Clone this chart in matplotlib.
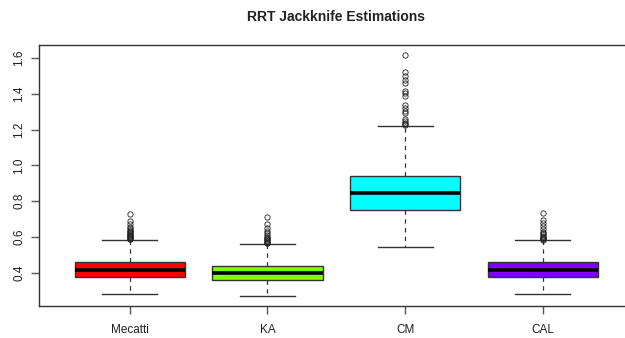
import matplotlib
matplotlib.use("Agg")
import matplotlib.pyplot as plt

plt.rcParams["font.family"] = ["Liberation Sans", "DejaVu Sans"]

# Box summaries
labels = ["Mecatti", "KA", "CM", "CAL"]
colors = ["#FF0000", "#80FF00", "#00FFFF", "#8000FF"]
q1 = [0.374, 0.359, 0.749, 0.374]
medians = [0.415, 0.398, 0.847, 0.415]
q3 = [0.460, 0.439, 0.940, 0.460]
whis_lo = [0.281, 0.268, 0.544, 0.281]
whis_hi = [0.581, 0.560, 1.220, 0.581]

fliers_mecatti = [0.728, 0.689, 0.672, 0.657, 0.648, 0.640, 0.634, 0.628, 0.622,
                  0.617, 0.612, 0.607, 0.603, 0.599, 0.595, 0.591, 0.587]
fliers_ka = [0.710, 0.670, 0.652, 0.635, 0.620, 0.610, 0.601, 0.594, 0.588,
             0.582, 0.577, 0.572, 0.567, 0.564]
fliers_cm = [1.619, 1.520, 1.500, 1.477, 1.459, 1.417, 1.403, 1.388, 1.337,
             1.319, 1.304, 1.291, 1.259, 1.248, 1.238, 1.230, 1.225]
fliers_cal = [0.735, 0.696, 0.678, 0.661, 0.645, 0.630, 0.622, 0.614, 0.607,
              0.600, 0.596, 0.592, 0.588, 0.585]
fliers = [fliers_mecatti, fliers_ka, fliers_cm, fliers_cal]

stats = []
for i in range(len(labels)):
    stats.append({"label": labels[i], "q1": q1[i], "med": medians[i], "q3": q3[i],
                  "whislo": whis_lo[i], "whishi": whis_hi[i], "fliers": fliers[i]})

fig = plt.figure(figsize=(6.25, 3.38), dpi=100)
ax = fig.add_axes([39 / 625, 32 / 338, 586 / 625, 261 / 338])

bp = ax.bxp(stats, positions=[1, 2, 3, 4], widths=0.8, patch_artist=True,
            boxprops=dict(edgecolor="#333333", linewidth=1.0),
            medianprops=dict(color="black", linewidth=2.6, solid_capstyle="butt"),
            whiskerprops=dict(color="#333333", linewidth=0.9, linestyle=(0, (3.5, 3.5))),
            capprops=dict(color="#333333", linewidth=1.0),
            capwidths=0.4,
            flierprops=dict(marker="o", markersize=3.8, markerfacecolor="none",
                            markeredgecolor="#222222", markeredgewidth=0.6))
for patch, c in zip(bp["boxes"], colors):
    patch.set_facecolor(c)

ax.set_xlim(0.341, 4.596)
ax.set_ylim(0.214, 1.673)
ax.set_yticks([0.4, 0.6, 0.8, 1.0, 1.2, 1.4, 1.6])
ax.set_yticklabels(["0.4", "0.6", "0.8", "1.0", "1.2", "1.4", "1.6"],
                   rotation=90, va="center")
ax.spines["right"].set_visible(False)
for s in ["left", "top", "bottom"]:
    ax.spines[s].set_color("#333333")
    ax.spines[s].set_linewidth(1.0)
ax.tick_params(axis="both", length=6, width=1.0, color="#555555",
               labelsize=8.5, labelcolor="#222222", pad=4)
ax.tick_params(axis="x", pad=7)

fig.text(336 / 625, 1 - 17 / 338, "RRT Jackknife Estimations", ha="center", va="center",
         fontsize=10, fontweight="bold", color="#222222")

fig.savefig("out.png", dpi=100)
